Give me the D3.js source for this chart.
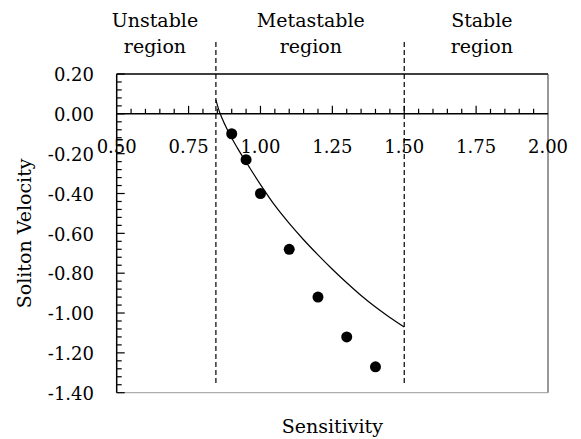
<!DOCTYPE html>
<html>
<head>
<meta charset="utf-8">
<script src="https://cdn.jsdelivr.net/npm/d3@7"></script>
<style>
    body { margin: 0; background: #fff; }
    text { font-family: "DejaVu Serif", serif; fill: #000; }
</style>
</head>
<body>
<div id="chart"></div>
<script>
(function() {
    // measured points
    var pointX = [0.90, 0.95, 1.00, 1.10, 1.20, 1.30, 1.40];
    var pointY = [-0.10, -0.23, -0.40, -0.68, -0.92, -1.12, -1.27];

    // fitted curve
    var curveX = [0.845, 0.86, 0.89, 0.92, 0.96, 1.00, 1.05, 1.10, 1.15, 1.20, 1.25, 1.30, 1.35, 1.40, 1.45, 1.50];
    var curveY = [0.07, 0.00, -0.095, -0.172, -0.265, -0.355, -0.46, -0.55, -0.632, -0.708, -0.78, -0.848, -0.912, -0.97, -1.022, -1.07];

    var xTicks = [0.50, 0.75, 1.00, 1.25, 1.50, 1.75, 2.00];
    var yTicks = [0.20, 0.00, -0.20, -0.40, -0.60, -0.80, -1.00, -1.20, -1.40];
    var boundaries = [0.845, 1.50];
    var regionNames = [["Unstable", "region"], ["Metastable", "region"], ["Stable", "region"]];
    var regionX = [0.633, 1.175, 1.77];

    var width = 581, height = 439;
    var svg = d3.select("#chart")
        .append("svg")
        .attr("width", width)
        .attr("height", height);

    var x = d3.scaleLinear().domain([0.5, 2.0]).range([116.7, 548]);
    var y = d3.scaleLinear().domain([-1.4, 0.2]).range([392.7, 74]);
    var fmt = function(v) { return d3.format(".2f")(v).replace("\u2212", "-"); };

    // frame
    svg.append("line")
        .attr("x1", x(0.5)).attr("x2", x(2.0))
        .attr("y1", y(0.2)).attr("y2", y(0.2))
        .attr("stroke", "#000").attr("stroke-width", 1.5);
    svg.append("line")
        .attr("x1", x(2.0)).attr("x2", x(2.0))
        .attr("y1", y(0.2)).attr("y2", y(-1.4))
        .attr("stroke", "#333").attr("stroke-width", 1);
    svg.append("line")
        .attr("x1", x(0.5)).attr("x2", x(2.0))
        .attr("y1", y(-1.4)).attr("y2", y(-1.4))
        .attr("stroke", "#999").attr("stroke-width", 1);
    svg.append("line")
        .attr("x1", x(0.5)).attr("x2", x(0.5))
        .attr("y1", y(0.2)).attr("y2", y(-1.4))
        .attr("stroke", "#000").attr("stroke-width", 1.5);

    // y ticks (every 0.04, inward)
    var yMinor = d3.range(0, 41).map(function(i) { return 0.2 - i * 0.04; });
    svg.selectAll(".ytick")
        .data(yMinor)
        .enter()
        .append("line")
        .attr("class", "ytick")
        .attr("x1", x(0.5))
        .attr("x2", function(d, i) { return x(0.5) + (i % 5 === 0 ? 8 : 5); })
        .attr("y1", function(d) { return y(d); })
        .attr("y2", function(d) { return y(d); })
        .attr("stroke", "#000").attr("stroke-width", 1.2);

    svg.selectAll(".ylabel")
        .data(yTicks)
        .enter()
        .append("text")
        .attr("class", "ylabel")
        .attr("x", 94)
        .attr("y", function(d) { return y(d); })
        .attr("dy", "0.4em")
        .style("text-anchor", "end")
        .style("font-size", "18px")
        .text(fmt);

    // zero line with upward ticks
    svg.append("line")
        .attr("x1", x(0.5)).attr("x2", x(2.0))
        .attr("y1", y(0)).attr("y2", y(0))
        .attr("stroke", "#000").attr("stroke-width", 1.5);
    var xMinor = d3.range(1, 30).map(function(i) { return 0.5 + i * 0.05; });
    svg.selectAll(".xtick")
        .data(xMinor)
        .enter()
        .append("line")
        .attr("class", "xtick")
        .attr("x1", function(d) { return x(d); })
        .attr("x2", function(d) { return x(d); })
        .attr("y1", y(0))
        .attr("y2", function(d, i) { return y(0) - ((i + 1) % 5 === 0 ? 8 : 5); })
        .attr("stroke", "#000").attr("stroke-width", 1.2);

    svg.selectAll(".xlabel")
        .data(xTicks)
        .enter()
        .append("text")
        .attr("class", "xlabel")
        .attr("x", function(d) { return x(d); })
        .attr("y", y(0) + 39)
        .style("text-anchor", "middle")
        .style("font-size", "18px")
        .text(fmt);

    // region boundaries
    svg.selectAll(".bound")
        .data(boundaries)
        .enter()
        .append("line")
        .attr("class", "bound")
        .attr("x1", function(d) { return x(d); })
        .attr("x2", function(d) { return x(d); })
        .attr("y1", 42)
        .attr("y2", 385)
        .attr("stroke", "#000")
        .attr("stroke-width", 1.2)
        .attr("stroke-dasharray", "5,3");

    // region names
    var names = svg.selectAll(".region")
        .data(regionNames)
        .enter()
        .append("text")
        .attr("class", "region")
        .style("text-anchor", "middle")
        .style("font-size", "19px");
    names.append("tspan")
        .attr("x", function(d, i) { return x(regionX[i]); })
        .attr("y", 27)
        .text(function(d) { return d[0]; });
    names.append("tspan")
        .attr("x", function(d, i) { return x(regionX[i]); })
        .attr("y", 53)
        .text(function(d) { return d[1]; });

    // curve
    var line = d3.line()
        .x(function(d) { return x(d[0]); })
        .y(function(d) { return y(d[1]); })
        .curve(d3.curveCatmullRom);
    svg.append("path")
        .datum(d3.zip(curveX, curveY))
        .attr("d", line)
        .attr("fill", "none")
        .attr("stroke", "#000")
        .attr("stroke-width", 1.2);

    // points
    svg.selectAll(".dot")
        .data(d3.zip(pointX, pointY))
        .enter()
        .append("circle")
        .attr("class", "dot")
        .attr("cx", function(d) { return x(d[0]); })
        .attr("cy", function(d) { return y(d[1]); })
        .attr("r", 5.5)
        .style("fill", "#000");

    // axis titles
    svg.append("text")
        .attr("x", (x(0.5) + x(2.0)) / 2)
        .attr("y", 433)
        .style("text-anchor", "middle")
        .style("font-size", "19px")
        .text("Sensitivity");
    svg.append("text")
        .attr("transform", "translate(31," + (y(0.2) + y(-1.4)) / 2 + ") rotate(-90)")
        .style("text-anchor", "middle")
        .style("font-size", "19px")
        .text("Soliton Velocity");
})();
</script>
</body>
</html>
